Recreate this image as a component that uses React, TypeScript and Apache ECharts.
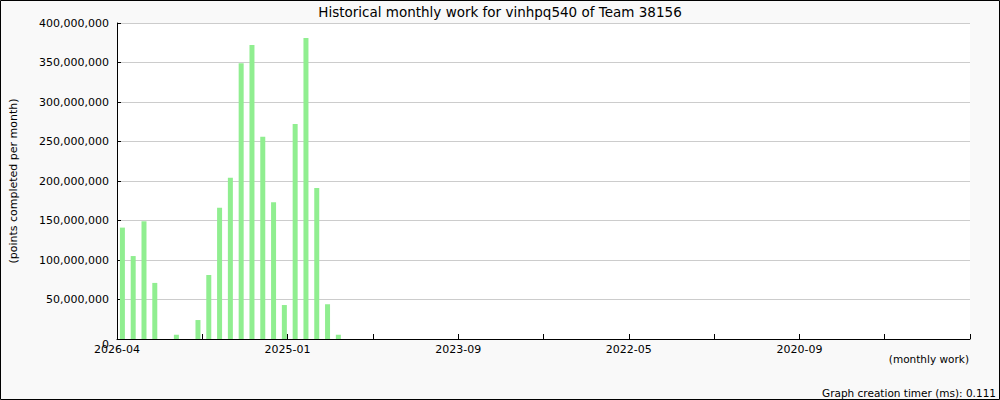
import React, { useEffect, useRef } from "react";
import * as echarts from "echarts";

const titleText = "Historical monthly work for vinhpq540 of Team 38156";
const yAxisName = "(points completed per month)";
const xAxisName = "(monthly work)";
const timerText = "Graph creation timer (ms): 0.111";

// number of months on the x axis (most recent first)
const monthCount = 79;
// tick labels at every second tick (10 equal divisions of the axis)
const xTickLabels = ["2026-04", "", "2025-01", "", "2023-09", "", "2022-05", "", "2020-09", "", ""];
// monthly points, most recent month first
const monthlyPoints = [
  141000000, 105000000, 149000000, 71000000, 0, 5400000, 0, 24000000, 81000000, 166000000,
  204000000, 349000000, 372000000, 256000000, 173000000, 43000000, 272000000, 381000000,
  191000000, 44000000, 5400000,
];

const FONT = "DejaVu Sans";

export default function App() {
  const ref = useRef<HTMLDivElement>(null);
  useEffect(() => {
    if (!ref.current) return;
    const chart = echarts.init(ref.current, undefined, { renderer: "svg" });
    const tickStep = monthCount / 10;
    const barData = monthlyPoints.map((v, i) => [i + 0.5, v]);
    chart.setOption({
      animation: false,
      backgroundColor: "#f9f9f9",
      textStyle: { fontFamily: FONT },
      title: {
        text: titleText,
        left: "center",
        top: 0,
        textStyle: { fontFamily: FONT, fontSize: 13.5, fontWeight: "normal", color: "#000" },
      },
      grid: { left: 116, right: 30, top: 23, bottom: 61, show: true, backgroundColor: "#ffffff", borderWidth: 0 },
      xAxis: {
        type: "value",
        min: 0,
        max: monthCount,
        interval: tickStep,
        axisLine: { show: true, lineStyle: { color: "#000", width: 1 } },
        axisTick: { show: true, inside: true, length: 5, lineStyle: { color: "#000" } },
        splitLine: { show: false },
        axisLabel: {
          show: true,
          margin: 5,
          fontFamily: FONT,
          fontSize: 11,
          color: "#000",
          showMinLabel: true,
          showMaxLabel: true,
          formatter: (v: number) => xTickLabels[Math.round(v / tickStep)] ?? "",
        },
      },
      yAxis: {
        type: "value",
        min: 0,
        max: 400000000,
        interval: 50000000,
        name: yAxisName,
        nameLocation: "middle",
        nameRotate: 90,
        nameGap: 98,
        nameTextStyle: { fontFamily: FONT, fontSize: 11, color: "#000" },
        axisLine: { show: true, lineStyle: { color: "#000", width: 1 } },
        axisTick: { show: true, inside: true, length: 4, lineStyle: { color: "#000" } },
        splitLine: { show: true, lineStyle: { color: "#cccccc", width: 1 } },
        axisLabel: {
          margin: 8,
          fontFamily: FONT,
          fontSize: 11,
          color: "#000",
          formatter: (v: number) => (v === 0 ? "{z|0}" : v.toLocaleString("en-US")),
          rich: {
            z: { fontFamily: FONT, fontSize: 11, color: "#000", padding: [10, 0, 0, 0] },
          },
        },
      },
      series: [
        {
          type: "bar",
          data: barData,
          barWidth: 5,
          itemStyle: { color: "#90ee90" },
        },
      ],
      graphic: [
        {
          type: "rect",
          shape: { x: 0.5, y: 0.5, width: 999, height: 399 },
          style: { fill: "none", stroke: "#000", lineWidth: 1 },
          silent: true,
          z: 100,
        },
        {
          type: "text",
          right: 31,
          top: 353,
          style: { text: xAxisName, font: `10.5px "${FONT}"`, fill: "#000" },
        },
        {
          type: "text",
          right: 4,
          top: 387,
          style: { text: timerText, font: `10.5px "${FONT}"`, fill: "#000" },
        },
      ],
    });
    return () => chart.dispose();
  }, []);
  return (
    <div
      ref={ref}
      style={{ position: "absolute", left: 0, top: 0, width: 1000, height: 400 }}
    />
  );
}
